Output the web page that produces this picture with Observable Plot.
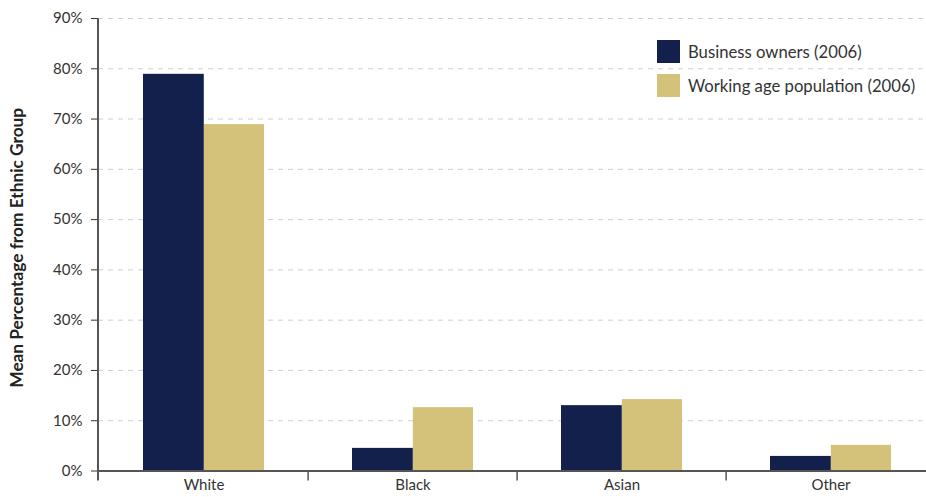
<!DOCTYPE html>
<html><head><meta charset="utf-8">
<script src="https://cdn.jsdelivr.net/npm/d3@7"></script>
<script src="https://cdn.jsdelivr.net/npm/@observablehq/plot@0.6"></script>
<style>
body{margin:0;background:#fff;}
#wrap{position:relative;width:926px;height:497px;font-family:Lato, sans-serif;}
.legend{position:absolute;left:657px;top:40px;font-size:16.7px;color:#333;}
.legend .row{display:flex;align-items:center;height:23px;margin-bottom:11px;white-space:nowrap;}
.legend .sw{width:23px;height:23px;margin-right:8px;flex:none;}
</style></head>
<body><div id="wrap"></div>
<script>
const categories = ["White", "Black", "Asian", "Other"];
const series = ["Business owners (2006)", "Working age population (2006)"];
const businessOwners = [78.9, 4.5, 13.0, 2.9];
const workingAge = [68.9, 12.6, 14.2, 5.1];
const yTicks = [0, 10, 20, 30, 40, 50, 60, 70, 80, 90];
const colors = ["#13204c", "#d5c27a"];
const yLabel = "Mean Percentage from Ethnic Group";

const data = categories.flatMap((c, i) => [
  {category: c, series: series[0], value: businessOwners[i]},
  {category: c, series: series[1], value: workingAge[i]}
]);

const W = 926, H = 497;
const xRange = [98, 937]; // last band runs past the right edge (clipped)
const padIn = 0.42, padOut = 0.21;
const step = (xRange[1] - xRange[0]) / (categories.length - padIn + 2 * padOut);
const half = step * (1 - padIn) / 2;

function axisDecor(index, scales, values, dimensions) {
  const x = scales.x, y = scales.y;
  const st = x.step ? x.step() : step;
  const g = d3.create("svg:g").attr("stroke", "#555");
  const y0 = y(0), yTop = y(yTicks[yTicks.length - 1]);
  g.append("line").attr("x1", dimensions.marginLeft).attr("x2", dimensions.marginLeft)
    .attr("y1", yTop).attr("y2", y0 + 10).attr("stroke-width", 2);
  categories.slice(1).forEach(c => {
    const bx = x(c) - st * padIn / 2;
    g.append("line").attr("x1", bx).attr("x2", bx).attr("y1", y0).attr("y2", y0 + 10).attr("stroke-width", 1.5);
  });
  return g.node();
}

const chart = Plot.plot({
  width: W, height: H,
  marginLeft: 98, marginRight: 0, marginTop: 18, marginBottom: 26.5,
  style: {fontFamily: "Lato, sans-serif", fontSize: "15px", color: "#333", background: "white", overflow: "hidden"},
  x: {domain: categories, range: xRange, paddingInner: padIn, paddingOuter: padOut, tickSize: 0, tickPadding: 8, label: null},
  y: {domain: [0, 90], ticks: yTicks, tickFormat: d => d + "%", tickSize: 7, tickPadding: 9, label: null},
  color: {domain: series, range: colors},
  marks: [
    Plot.ruleY(yTicks.filter(t => t > 0), {stroke: "#cfcfcf", strokeDasharray: "5,5", strokeWidth: 1}),
    Plot.barY(data.filter(d => d.series === series[1]), {x: "category", y: "value", fill: "series", insetLeft: half}),
    Plot.barY(data.filter(d => d.series === series[0]), {x: "category", y: "value", fill: "series", insetRight: half - 0.6}),
    Plot.ruleY([0], {stroke: "#555", strokeWidth: 2}),
    axisDecor,
    Plot.text([yLabel], {frameAnchor: "left", textAnchor: "middle", rotate: -90, dx: -81, dy: 3, fontWeight: "bold", fontSize: 17.3, fill: "#222"})
  ]
});

const wrap = document.getElementById("wrap");
wrap.appendChild(chart);
const legend = document.createElement("div");
legend.className = "legend";
series.forEach((s, i) => {
  const row = document.createElement("div");
  row.className = "row";
  const sw = document.createElement("div");
  sw.className = "sw";
  sw.style.background = colors[i];
  const t = document.createElement("span");
  t.textContent = s;
  row.appendChild(sw); row.appendChild(t);
  legend.appendChild(row);
});
wrap.appendChild(legend);
</script>
</body></html>
